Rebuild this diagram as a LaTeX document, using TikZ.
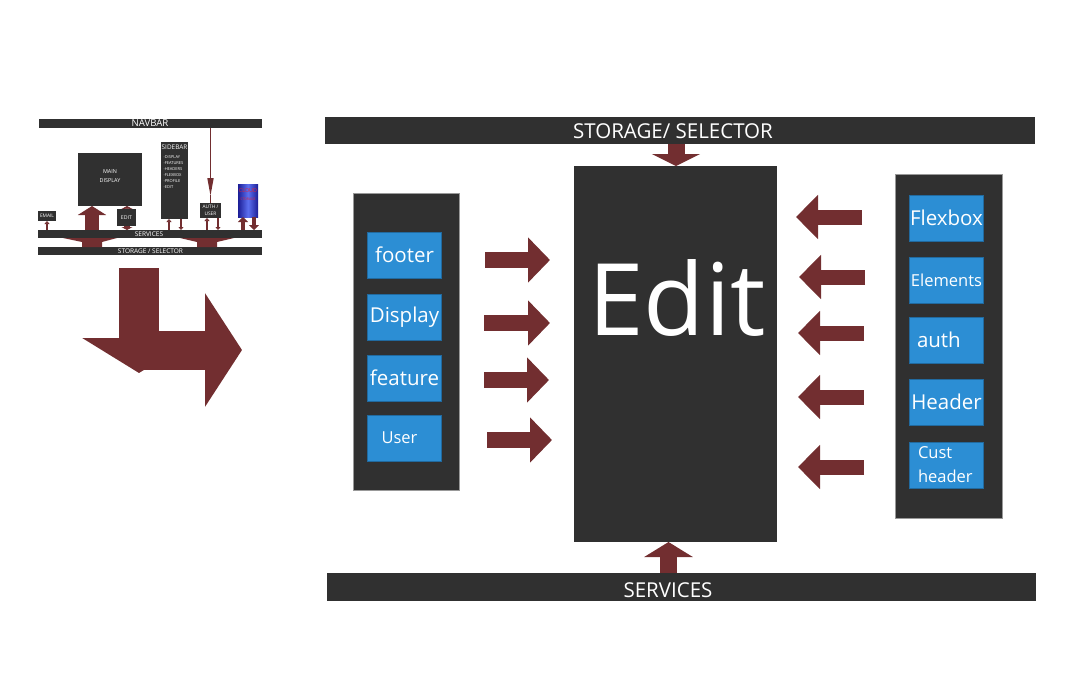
\documentclass[tikz,border=0pt]{standalone}
\usepackage{fontspec}
\setmainfont{Open Sans}
\usetikzlibrary{arrows.meta, backgrounds, calc, positioning}

\definecolor{panel}{RGB}{48,48,48}
\definecolor{tile}{RGB}{44,142,212}
\definecolor{maroon}{RGB}{114,46,48}
\definecolor{cloudedge}{RGB}{28,30,150}
\definecolor{cloudmid}{RGB}{92,112,240}
\definecolor{cloudtext}{RGB}{225,35,60}

\begin{document}
\begin{tikzpicture}[x=1pt, y=-1pt]
\tikzset{every node/.style={inner sep=0mm, outer sep=0mm}}

\tikzstyle{stripbar}=[fill=panel, anchor=north west]
\tikzstyle{barlabel}=[text=white, anchor=base, font=\fontsize{20.5}{24}\selectfont]
\tikzstyle{panelbox}=[fill=panel, draw=black!40, line width=0.8pt, anchor=north west]
\tikzstyle{tilebox}=[fill=tile, draw=tile!75!black, line width=0.6pt, text=white, minimum width=74pt, minimum height=46pt, font=\fontsize{20.5}{24}\selectfont]
\tikzstyle{smalltile}=[font=\fontsize{16.5}{24}\selectfont]
\tikzstyle{blockright}=[line width=16pt, maroon, -{Triangle[width=44pt, length=22pt]}]
\tikzstyle{blockleft}=[line width=15pt, maroon, -{Triangle[width=43pt, length=22pt]}]
\tikzstyle{blockvert}=[line width=17pt, maroon, -{Triangle[width=48pt, length=12pt]}]
\tikzstyle{minibox}=[fill=panel, anchor=north west]
\tikzstyle{minitext}=[text=white, align=center, font=\fontsize{5.2}{6}\selectfont]
\tikzstyle{minilink}=[maroon, line width=1.6pt, -{Triangle[width=5pt, length=3pt]}]

\useasboundingbox (0,0) rectangle (1074,681);

% overview sketch
\node[stripbar, minimum width=223pt, minimum height=9pt] (nav bar) at (39,119) {};
\node[minitext, font=\fontsize{9.6}{10}\selectfont] (nav label) at (150,123.5) {NAVBAR};
\node[stripbar, minimum width=224pt, minimum height=8pt] (mini services) at (38,230) {};
\node[minitext, font=\fontsize{6.5}{7}\selectfont] (mini services label) at (149,234) {SERVICES};
\node[stripbar, minimum width=224pt, minimum height=8pt] (mini storage) at (38,247) {};
\node[minitext, font=\fontsize{6.5}{7}\selectfont] (mini storage label) at (150.5,251) {STORAGE / SELECTOR};

\begin{scope}[on background layer]
    \draw[maroon, line width=6pt, {Triangle[width=11pt, length=3pt]}-{Triangle[width=11pt, length=3pt]}] (127,230) -- (127,206);
\end{scope}

\node[minibox, minimum width=64pt, minimum height=53pt] (main display) at (78,153) {};
\node[minitext, font=\fontsize{5.4}{9.5}\selectfont] (main display label) at (110,176) {MAIN\\DISPLAY};
\node[minibox, minimum width=19pt, minimum height=17pt] (mini edit) at (117,209) {};
\node[minitext] (mini edit label) at (mini edit.center) {EDIT};
\node[minibox, minimum width=18pt, minimum height=10pt] (email) at (38,211) {};
\node[minitext, font=\fontsize{4.8}{5}\selectfont] (email label) at (email.center) {EMAIL};
\node[minibox, minimum width=27pt, minimum height=77pt] (sidebar) at (161,142) {};
\node[minitext, font=\fontsize{6.4}{7}\selectfont] (sidebar label) at (174.5,147.5) {SIDEBAR};
\node[minitext, align=left, anchor=north west, font=\fontsize{4}{6}\selectfont] (sidebar list) at (163.5,156) {-DISPLAY\\-FEATURES\\-HEADERS\\-FLEXBOX\\-PROFILE\\-EDIT};
\node[minibox, minimum width=21pt, minimum height=15pt] (auth user) at (200,203) {};
\node[minitext, font=\fontsize{4.8}{6.5}\selectfont] (auth user label) at (auth user.center) {AUTH /\\USER};
\node[anchor=north west, minimum width=20pt, minimum height=33pt, left color=cloudedge, right color=cloudedge, middle color=cloudmid] (cloud) at (238,184) {};
\node[text=cloudtext, font=\fontsize{5.4}{6}\selectfont] (cloud label) at (248,191) {CLOUD};
\node[text=cloudtext, font=\fontsize{3.5}{4}\selectfont] (cloud sub label) at (248,199.5) {STORAGE};

\draw[minilink] ($(email.south)+(0,9)$) -- (email.south);
\draw[maroon, line width=14pt, -{Triangle[width=28pt, length=9pt]}] ($(main display.south)+(-18,24)$) -- ($(main display.south)+(-18,0)$);
\draw[minilink] ($(sidebar.south)+(-5.5,11)$) -- ($(sidebar.south)+(-5.5,0)$);
\draw[minilink] ($(sidebar.south)+(6.5,0)$) -- ($(sidebar.south)+(6.5,11)$);
\draw[minilink] ($(auth user.south)+(-3.5,12)$) -- ($(auth user.south)+(-3.5,0)$);
\draw[minilink] ($(auth user.south)+(7.5,0)$) -- ($(auth user.south)+(7.5,12)$);
\draw[minilink, -{Triangle[width=6pt, length=18pt]}, shorten >=7pt] (auth user.north |- nav bar.south) -- (auth user.north);
\draw[maroon, line width=0.8pt] ($(auth user.north)+(0,-8)$) -- (auth user.north);
\draw[maroon, line width=4pt, -{Triangle[width=10pt, length=5pt]}] ($(cloud.south)+(-5,13)$) -- ($(cloud.south)+(-5,0)$);
\draw[maroon, line width=4pt, -{Triangle[width=10pt, length=5pt]}] ($(cloud.south)+(6,0)$) -- ($(cloud.south)+(6,13)$);

\fill[maroon] (63,238) -- (117,238) -- (102,242) -- (102,247) -- (82,247) -- (82,242) -- cycle;
\fill[maroon] (180,238) -- (234,238) -- (217,242) -- (217,247) -- (197,247) -- (197,242) -- cycle;

% turn arrow
\coordinate (turn start) at (139,350);
\coordinate (turn tip) at (242,350);
\draw[line width=39pt, maroon, -{Triangle[width=112pt, length=37pt]}] (turn start) -- (turn tip);
\coordinate (drop start) at (139,268);
\coordinate (drop tip) at (139,373);
\draw[line width=40pt, maroon, -{Triangle[width=112pt, length=35pt]}] (drop start) -- (drop tip);

% main diagram
\node[stripbar, minimum width=710pt, minimum height=27pt] (storage bar) at (325,117) {};
\node[barlabel] (storage label) at (673,138) {STORAGE/ SELECTOR};
\node[stripbar, minimum width=709pt, minimum height=28pt] (services bar) at (327,573) {};
\node[barlabel] (services label) at (668,597) {SERVICES};

\node[stripbar, minimum width=203pt, minimum height=376pt] (edit) at (574,166) {};
\node[text=white, anchor=base, font=\fontsize{100}{110}\selectfont] (edit label) at (677,335) {Edit};

\node[panelbox, minimum width=106pt, minimum height=297pt] (left panel) at (353,193) {};
\node[tilebox] (footer) at (404.5,255) {footer};
\node[tilebox, below=16pt of footer] (display) {Display};
\node[tilebox, below=15pt of display] (feature) {feature};
\node[tilebox, smalltile, text width=46pt, align=left, below=14pt of feature] (user) {User};

\node[panelbox, minimum width=107pt, minimum height=344pt] (right panel) at (895,174) {};
\node[tilebox] (flexbox) at (946.5,218) {Flexbox};
\node[tilebox, smalltile, below=16pt of flexbox] (elements) {Elements};
\node[tilebox, text width=59pt, align=left, below=14pt of elements] (auth) {auth};
\node[tilebox, below=16pt of auth] (header) {Header};
\node[tilebox, smalltile, text width=57pt, align=left, below=17pt of header, font=\fontsize{16.5}{24}\selectfont] (cust header) {Cust\\header};

\coordinate (footer tail) at (485,260);
\coordinate (display tail) at (484,323);
\coordinate (feature tail) at (484,380);
\coordinate (user tail) at (487,440);
\draw[blockright, shorten >=24pt] (footer tail) -- (footer tail -| edit.west);
\draw[blockright, shorten >=24pt] (display tail) -- (display tail -| edit.west);
\draw[blockright, shorten >=25pt] (feature tail) -- (feature tail -| edit.west);
\draw[blockright, shorten >=22pt] (user tail) -- (user tail -| edit.west);

\coordinate (flexbox tail) at (862,217);
\coordinate (elements tail) at (865,277);
\coordinate (auth tail) at (864,333);
\coordinate (header tail) at (864,397);
\coordinate (cust tail) at (864,467);
\draw[blockleft, shorten >=19pt] (flexbox tail) -- (flexbox tail -| edit.east);
\draw[blockleft, shorten >=22pt] (elements tail) -- (elements tail -| edit.east);
\draw[blockleft, shorten >=21pt] (auth tail) -- (auth tail -| edit.east);
\draw[blockleft, shorten >=21pt] (header tail) -- (header tail -| edit.east);
\draw[blockleft, shorten >=21pt] (cust tail) -- (cust tail -| edit.east);

\coordinate (storage tail) at (676,144);
\draw[blockvert] (storage tail) -- (storage tail |- edit.north);
\coordinate (services tail) at (668.5,573);
\draw[blockvert, -{Triangle[width=48pt, length=15pt]}] (services tail) -- (services tail |- edit.south);

\end{tikzpicture}
\end{document}
